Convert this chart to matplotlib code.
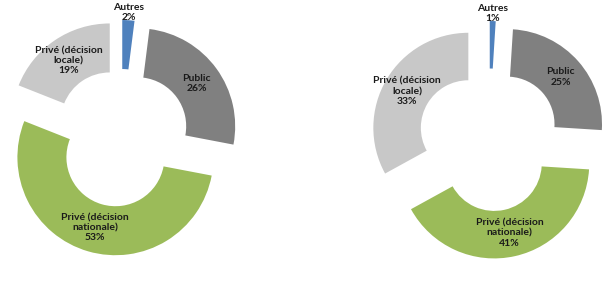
import numpy as np
import matplotlib.pyplot as plt

# parts de chaque type de décision, deux donuts
categories = ['Autres', 'Public', 'Privé (décision\nnationale)', 'Privé (décision\nlocale)']
left_values = [2, 26, 53, 19]
right_values = [1, 25, 41, 33]
colors = ['#4F81BD', '#808080', '#9BBB59', '#C8C8C8']

plt.rcParams['font.family'] = ['Lato', 'DejaVu Sans']

fig = plt.figure(figsize=(6.1, 2.85), dpi=100)
ax = fig.add_axes([0, 0, 1, 1])


def donut(values, center, radius, explode):
    wedges, _ = ax.pie(values, colors=colors, startangle=90, counterclock=False,
                       center=center, radius=radius, explode=[explode] * len(values),
                       wedgeprops=dict(width=radius * 0.5, linewidth=0))
    for w, name, v in zip(wedges, categories, values):
        mid = np.deg2rad((w.theta1 + w.theta2) / 2)
        if v < 5:
            d = w.r * 1.08
        else:
            d = w.r - w.width / 2
        x = w.center[0] + d * np.cos(mid)
        y = w.center[1] + d * np.sin(mid)
        ax.text(x, y, f'{name}\n{v}%', ha='center', va='center', fontsize=7.5,
                fontweight='bold', color='#1a1a1a', linespacing=1.15)


donut(left_values, (121, 147), 98, 20)
donut(right_values, (489, 145), 95, 24)

ax.set_xlim(0, 610)
ax.set_ylim(0, 285)
ax.set_aspect('equal')
ax.axis('off')

plt.savefig('out.png')
